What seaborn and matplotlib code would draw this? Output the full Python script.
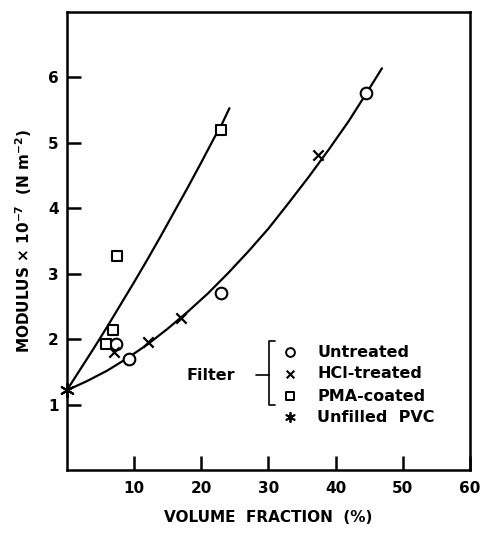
import matplotlib
matplotlib.use("Agg")
import matplotlib.pyplot as plt
import seaborn as sns

# ---- data ----
untreated_x = [7.3, 9.3, 23.0, 44.6]
untreated_y = [1.93, 1.70, 2.71, 5.76]
hcl_x = [7.0, 12.1, 17.0, 37.4]
hcl_y = [1.80, 1.95, 2.33, 4.82]
pma_x = [5.8, 6.9, 7.5, 23.0]
pma_y = [1.92, 2.14, 3.27, 5.20]
pvc_x = [0.0]
pvc_y = [1.22]

# drawn curves
upper_x = [0, 2, 4, 6, 8, 10, 12, 14, 16, 18, 20, 22, 23, 24.2]
upper_y = [1.22, 1.54, 1.86, 2.19, 2.53, 2.87, 3.22, 3.58, 3.95, 4.32, 4.70, 5.09, 5.27, 5.53]
lower_x = [0, 3, 6, 9, 12, 15, 18, 21, 24, 27, 30, 33, 36, 39, 42, 44.6, 46.9]
lower_y = [1.22, 1.36, 1.52, 1.71, 1.92, 2.16, 2.42, 2.70, 3.01, 3.34, 3.69, 4.08, 4.48, 4.90, 5.34, 5.76, 6.14]

x_ticks = [10, 20, 30, 40, 50, 60]
y_ticks = [1, 2, 3, 4, 5, 6]
legend_labels = ["Untreated", "HCl-treated", "PMA-coated", "Unfilled  PVC"]

sns.set_style("ticks")
plt.rcParams["font.family"] = ["DejaVu Sans"]
plt.rcParams["font.weight"] = "bold"
for k in ["text.color", "axes.labelcolor", "xtick.color", "ytick.color", "axes.edgecolor"]:
    plt.rcParams[k] = "black"

fig = plt.figure(figsize=(4.81, 5.46), dpi=100)
ax = fig.add_axes([0.139, 0.139, 0.838, 0.839])

sns.lineplot(x=upper_x, y=upper_y, color="black", linewidth=1.6, ax=ax, sort=False)
sns.lineplot(x=lower_x, y=lower_y, color="black", linewidth=1.6, ax=ax, sort=False)

sns.scatterplot(x=untreated_x, y=untreated_y, marker="o", s=70, facecolor="white",
                edgecolor="black", linewidth=1.5, ax=ax, zorder=5)
sns.scatterplot(x=hcl_x, y=hcl_y, marker="x", s=55, color="black",
                linewidth=1.6, ax=ax, zorder=5)
sns.scatterplot(x=pma_x, y=pma_y, marker="s", s=45, facecolor="white",
                edgecolor="black", linewidth=1.5, ax=ax, zorder=5)
sns.scatterplot(x=pvc_x, y=pvc_y, marker=(6, 2, 0), s=90, color="black",
                linewidth=1.5, ax=ax, zorder=6, clip_on=False)

# manual legend
leg_mx = 33.2
leg_tx = 37.3
leg_y = [1.80, 1.47, 1.13, 0.81]
ax.scatter([leg_mx], [leg_y[0]], marker="o", s=40, facecolor="white", edgecolor="black", linewidth=1.4)
ax.scatter([leg_mx], [leg_y[1]], marker="x", s=30, color="black", linewidth=1.5)
ax.scatter([leg_mx], [leg_y[2]], marker="s", s=28, facecolor="white", edgecolor="black", linewidth=1.4)
ax.scatter([leg_mx], [leg_y[3]], marker=(6, 2, 0), s=45, color="black", linewidth=1.3)
for yy, lab in zip(leg_y, legend_labels):
    ax.text(leg_tx, yy, lab, fontsize=11.5, fontweight="bold", va="center", ha="left")
ax.text(21.5, 1.45, "Filter", fontsize=11.5, fontweight="bold", va="center", ha="center")
# bracket
ax.plot([28.1, 30.1], [1.45, 1.45], color="black", linewidth=1.2)
ax.plot([31.0, 30.1, 30.1, 31.0], [1.97, 1.97, 1.0, 1.0], color="black", linewidth=1.2)

ax.set_xlim(0, 60)
ax.set_ylim(0, 7)
ax.set_xticks(x_ticks)
ax.set_yticks(y_ticks)
ax.set_xticklabels([str(t) for t in x_ticks], fontsize=11, fontweight="bold")
ax.set_yticklabels([str(t) for t in y_ticks], fontsize=11, fontweight="bold")
ax.tick_params(direction="in", length=10, width=1.8, pad=6, colors="black")
ax.tick_params(axis="x", pad=8)
for sp in ax.spines.values():
    sp.set_linewidth(1.8)
    sp.set_visible(True)
    sp.set_color("black")

ax.set_xlabel("VOLUME  FRACTION  (%)", fontsize=11, fontweight="bold", labelpad=10)
ax.set_ylabel(r"MODULUS $\times$ 10$^{\mathbf{-7}}$  (N m$^{\mathbf{-2}}$)", fontsize=11,
              fontweight="bold", labelpad=10)

fig.savefig("out.png", dpi=100)
